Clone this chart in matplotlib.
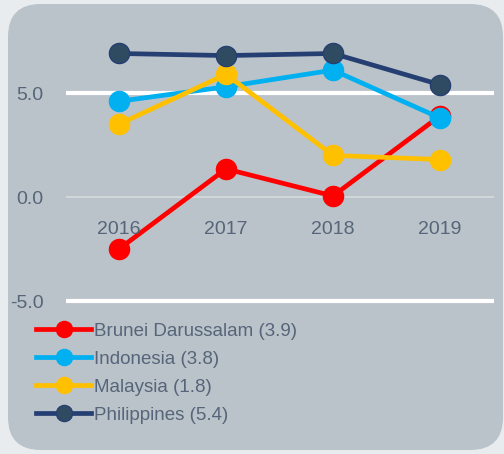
import matplotlib.pyplot as plt
from matplotlib.patches import FancyBboxPatch

years = ['2016', '2017', '2018', '2019']
brunei = [-2.5, 1.35, 0.05, 3.9]
indonesia = [4.6, 5.3, 6.1, 3.8]
malaysia = [3.5, 5.9, 2.0, 1.8]
philippines = [6.9, 6.8, 6.9, 5.4]

names = ['Brunei Darussalam (3.9)', 'Indonesia (3.8)', 'Malaysia (1.8)', 'Philippines (5.4)']
colors = ['#ff0000', '#00b0f0', '#ffc000', '#263f73']
faces = ['#ff0000', '#00b0f0', '#ffc000', '#2f4b62']

plt.rcParams['font.family'] = ['Liberation Sans Narrow', 'Liberation Sans', 'DejaVu Sans']
txt = '#566579'

W, H = 504, 454
fig = plt.figure(figsize=(W / 100, H / 100), dpi=100, facecolor='#e8ecef')

# rounded grey panel
panel = FancyBboxPatch((8 / W, 4 / H), (W - 9) / W, (H - 8) / H,
                       boxstyle='round,pad=0,rounding_size=0.065',
                       transform=fig.transFigure, facecolor='#bbc3ca',
                       edgecolor='none', mutation_aspect=W / H, zorder=-5)
fig.patches.append(panel)

top, bot = 20, 310
ax = fig.add_axes([66 / W, 1 - bot / H, (494 - 66) / W, (bot - top) / H])
ax.set_facecolor('none')
ax.set_zorder(2)
ppu = 20.8
ax.set_ylim(-5 - (bot - 301) / ppu, 5 + (93 - top) / ppu)
ax.set_xlim(-53 / 107, 3 + 54 / 107)

ax.axhline(5, color='white', lw=3, zorder=1)
ax.axhline(-5, color='white', lw=3, zorder=1)
ax.axhline(0, color='#d6dadd', lw=1.2, zorder=1)

series = [brunei, indonesia, malaysia, philippines]
x = range(len(years))
for s, name, c, fc in zip(series, names, colors, faces):
    ax.plot(x, s, color=c, lw=3.4, marker='o', markersize=14.5,
            markerfacecolor=fc, markeredgecolor=c, markeredgewidth=1,
            label=name, zorder=3)

for i, yr in enumerate(years):
    ax.text(i, -1.55, yr, ha='center', va='center', fontsize=14, color=txt)

ax.set_yticks([-5, 0, 5])
ax.set_yticklabels(['-5.0', '0.0', '5.0'])
ax.set_xticks([])
ax.tick_params(axis='y', length=0, pad=16, labelsize=14, labelcolor=txt)
for sp in ax.spines.values():
    sp.set_visible(False)

leg = fig.legend(loc='upper left', bbox_to_anchor=(19 / W, 1 - 306 / H),
                 frameon=False, fontsize=13.5, handlelength=2.95,
                 handletextpad=0.15, labelspacing=0.58, markerscale=0.8)
leg.set_zorder(3)
for t in leg.get_texts():
    t.set_color(txt)

fig.savefig('out.png', dpi=100, facecolor=fig.get_facecolor())
